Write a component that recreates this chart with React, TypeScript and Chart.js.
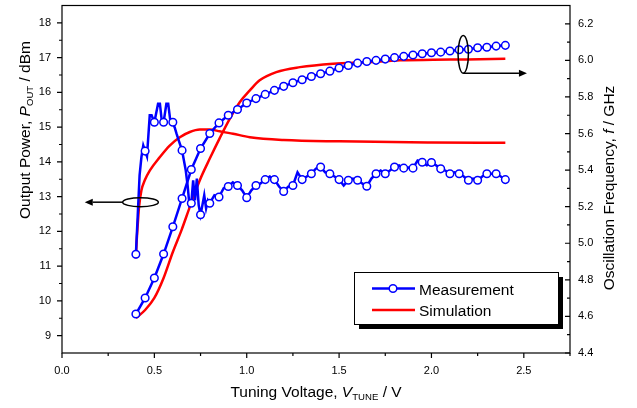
import React, { useEffect, useRef } from "react";
import { Chart, registerables } from "chart.js";

Chart.register(...registerables);

// ---------- tick labels ----------
const xTicks = [0, 0.5, 1.0, 1.5, 2.0, 2.5];
const powerTicks = [9, 10, 11, 12, 13, 14, 15, 16, 17, 18];
const freqTicks = [4.4, 4.6, 4.8, 5.0, 5.2, 5.4, 5.6, 5.8, 6.0, 6.2];

// ---------- measured output power (dBm) ----------
const measVoltsP = [
  0.4, 0.41, 0.42, 0.43, 0.44, 0.45, 0.46, 0.475, 0.485, 0.5, 0.52, 0.53, 0.54, 0.55,
  0.565, 0.575, 0.585, 0.6, 0.61, 0.62, 0.635, 0.65, 0.66, 0.67, 0.68, 0.69, 0.7, 0.71,
  0.72, 0.73, 0.74, 0.75, 0.76, 0.77, 0.78, 0.79, 0.8, 0.825, 0.85, 0.875, 0.9, 0.925,
  0.95, 0.975, 1.0, 1.025, 1.05, 1.075, 1.1, 1.125, 1.15, 1.175, 1.2, 1.225, 1.25, 1.275,
  1.3, 1.325, 1.35, 1.375, 1.4, 1.425, 1.45, 1.475, 1.5, 1.525, 1.55, 1.575, 1.6, 1.625,
  1.65, 1.675, 1.7, 1.725, 1.75, 1.775, 1.8, 1.825, 1.85, 1.875, 1.9, 1.925, 1.95, 1.975,
  2.0, 2.025, 2.05, 2.075, 2.1, 2.125, 2.15, 2.175, 2.2, 2.225, 2.25, 2.275, 2.3, 2.325,
  2.35, 2.375, 2.4,
];
const measPower = [
  11.34, 12.46, 13.61, 14.14, 14.47, 14.31, 14.16, 15.34, 15.34, 15.14, 15.67, 15.67, 15.19, 15.14,
  15.67, 15.67, 15.24, 15.14, 14.99, 14.81, 14.57, 14.33, 14.04, 13.75, 13.32, 12.75, 12.81, 13.47,
  12.89, 13.52, 12.75, 12.48, 12.75, 13.04, 12.66, 12.89, 12.81, 13.04, 12.99, 13.24, 13.29, 13.41,
  13.32, 13.18, 12.97, 13.18, 13.32, 13.38, 13.49, 13.58, 13.49, 13.29, 13.15, 13.29, 13.32, 13.7,
  13.49, 13.58, 13.66, 13.81, 13.85, 13.7, 13.66, 13.58, 13.49, 13.32, 13.47, 13.52, 13.47, 13.38,
  13.3, 13.52, 13.66, 13.75, 13.66, 13.75, 13.85, 13.9, 13.82, 13.84, 13.82, 14.04, 13.99, 13.9,
  13.98, 13.9, 13.8, 13.75, 13.66, 13.7, 13.66, 13.58, 13.47, 13.52, 13.47, 13.58, 13.66, 13.66,
  13.66, 13.58, 13.49,
];

// ---------- measured oscillation frequency (GHz) ----------
const measVoltsF = [
  0.4, 0.45, 0.5, 0.55, 0.6, 0.65, 0.7, 0.75, 0.8, 0.85, 0.9, 0.95, 1.0, 1.05, 1.1, 1.15,
  1.2, 1.25, 1.3, 1.35, 1.4, 1.45, 1.5, 1.55, 1.6, 1.65, 1.7, 1.75, 1.8, 1.85, 1.9, 1.95,
  2.0, 2.05, 2.1, 2.15, 2.2, 2.25, 2.3, 2.35, 2.4,
];
const measFreq = [
  4.613, 4.701, 4.81, 4.941, 5.09, 5.245, 5.403, 5.518, 5.6, 5.658, 5.7, 5.731, 5.767, 5.791,
  5.814, 5.836, 5.858, 5.878, 5.894, 5.912, 5.927, 5.941, 5.958, 5.972, 5.985, 5.994, 6.0,
  6.007, 6.015, 6.022, 6.029, 6.036, 6.042, 6.045, 6.051, 6.058, 6.061, 6.069, 6.072, 6.078, 6.082,
];

// ---------- simulated output power (dBm) ----------
const simVoltsP = [
  0.4, 0.404, 0.408, 0.417, 0.43, 0.448, 0.475, 0.53, 0.583, 0.638, 0.692, 0.746, 0.8,
  0.854, 0.926, 1.017, 1.2, 1.5, 2.0, 2.4,
];
const simPower = [
  11.22, 11.7, 12.03, 12.7, 13.18, 13.47, 13.75, 14.14, 14.47, 14.71, 14.86, 14.93, 14.93,
  14.88, 14.81, 14.71, 14.63, 14.59, 14.56, 14.55,
];

// ---------- simulated oscillation frequency (GHz) ----------
const simVoltsF = [
  0.4, 0.45, 0.5, 0.55, 0.6, 0.647, 0.692, 0.746, 0.8, 0.854, 0.908, 0.963, 1.017, 1.07,
  1.16, 1.288, 1.468, 1.649, 1.83, 2.01, 2.19, 2.4,
];
const simFreq = [
  4.591, 4.635, 4.701, 4.81, 4.952, 5.072, 5.199, 5.345, 5.463, 5.575, 5.68, 5.772, 5.836,
  5.891, 5.936, 5.963, 5.982, 5.99, 6.0, 6.004, 6.005, 6.009,
];

const BLUE = "#0000ff";
const RED = "#ff0000";
const FONT = "'Liberation Sans', Arial, Helvetica, sans-serif";

const isMarker = (v: number) => Math.abs(v * 20 - Math.round(v * 20)) < 1e-6;

type Part = { t: string; it?: boolean; sub?: boolean };

function drawRich(ctx: CanvasRenderingContext2D, parts: Part[], size: number) {
  const subSize = size * 0.62;
  const fontOf = (p: Part) =>
    `${p.it ? "italic " : ""}${p.sub ? subSize : size}px ${FONT}`;
  let total = 0;
  const widths = parts.map((p) => {
    ctx.font = fontOf(p);
    const w = ctx.measureText(p.t).width;
    total += w;
    return w;
  });
  let x = -total / 2;
  parts.forEach((p, i) => {
    ctx.font = fontOf(p);
    ctx.fillText(p.t, x, p.sub ? size * 0.22 : 0);
    x += widths[i];
  });
}

function arrow(ctx: CanvasRenderingContext2D, x0: number, y0: number, x1: number, y1: number) {
  const ang = Math.atan2(y1 - y0, x1 - x0);
  const L = 8;
  const W = 3.5;
  ctx.beginPath();
  ctx.moveTo(x0, y0);
  ctx.lineTo(x1 - L * Math.cos(ang), y1 - L * Math.sin(ang));
  ctx.stroke();
  ctx.beginPath();
  ctx.moveTo(x1, y1);
  ctx.lineTo(x1 - L * Math.cos(ang) + W * Math.sin(ang), y1 - L * Math.sin(ang) - W * Math.cos(ang));
  ctx.lineTo(x1 - L * Math.cos(ang) - W * Math.sin(ang), y1 - L * Math.sin(ang) + W * Math.cos(ang));
  ctx.closePath();
  ctx.fill();
}

const decorPlugin = {
  id: "decor",
  afterDraw(chart: any) {
    const { ctx, chartArea: a, scales } = chart;
    const sx = scales.x;
    const sy = scales.y;
    const sf = scales.y1;
    ctx.save();
    ctx.strokeStyle = "#000";
    ctx.fillStyle = "#000";
    ctx.lineWidth = 1.2;
    // frame
    ctx.strokeRect(a.left, a.top, a.right - a.left, a.bottom - a.top);

    // ticks
    ctx.beginPath();
    xTicks.forEach((v) => {
      const p = sx.getPixelForValue(v);
      ctx.moveTo(p, a.bottom);
      ctx.lineTo(p, a.bottom + 5);
      const m = sx.getPixelForValue(v + 0.25);
      ctx.moveTo(m, a.bottom);
      ctx.lineTo(m, a.bottom + 3);
    });
    powerTicks.forEach((v) => {
      const p = sy.getPixelForValue(v);
      ctx.moveTo(a.left - 5, p);
      ctx.lineTo(a.left, p);
      if (v < 18) {
        const m = sy.getPixelForValue(v + 0.5);
        ctx.moveTo(a.left - 3, m);
        ctx.lineTo(a.left, m);
      }
    });
    freqTicks.forEach((v) => {
      const p = sf.getPixelForValue(v);
      ctx.moveTo(a.right - 5, p);
      ctx.lineTo(a.right, p);
      const m = sf.getPixelForValue(v + 0.1);
      ctx.moveTo(a.right - 3, m);
      ctx.lineTo(a.right, m);
    });
    ctx.stroke();

    // axis titles
    ctx.textAlign = "left";
    ctx.textBaseline = "alphabetic";
    ctx.save();
    ctx.translate((a.left + a.right) / 2, 397);
    drawRich(ctx, [{ t: "Tuning Voltage, " }, { t: "V", it: true }, { t: "TUNE", sub: true }, { t: " / V" }], 15.5);
    ctx.restore();

    ctx.save();
    ctx.translate(30, 130);
    ctx.rotate(-Math.PI / 2);
    drawRich(ctx, [{ t: "Output Power, " }, { t: "P", it: true }, { t: "OUT", sub: true }, { t: " / dBm" }], 15.5);
    ctx.restore();

    ctx.save();
    ctx.translate(614, 188);
    ctx.rotate(-Math.PI / 2);
    drawRich(ctx, [{ t: "Oscillation Frequency, " }, { t: "f", it: true }, { t: " / GHz" }], 15.5);
    ctx.restore();

    // annotation: power side ellipse + arrow to the left
    ctx.lineWidth = 1.5;
    const ecx = sx.getPixelForValue(0.425);
    const ecy = sy.getPixelForValue(12.84);
    const erx = sx.getPixelForValue(0.425 + 0.0964) - ecx;
    const ery = ecy - sy.getPixelForValue(12.84 + 0.129);
    ctx.beginPath();
    ctx.ellipse(ecx, ecy, erx, ery, 0, 0, Math.PI * 2);
    ctx.stroke();
    arrow(ctx, ecx - erx, ecy, sx.getPixelForValue(0.123), ecy);

    // annotation: frequency side ellipse + arrow to the right
    const fcx = sx.getPixelForValue(2.172);
    const fcy = sf.getPixelForValue(6.033);
    const frx = sx.getPixelForValue(2.172 + 0.028) - fcx;
    const fry = fcy - sf.getPixelForValue(6.033 + 0.103);
    ctx.beginPath();
    ctx.ellipse(fcx, fcy, frx, fry, 0, 0, Math.PI * 2);
    ctx.stroke();
    arrow(ctx, fcx, fcy + fry, sx.getPixelForValue(2.517), fcy + fry);

    // legend
    const lx = 354, ly = 272, lw = 204, lh = 52;
    ctx.fillStyle = "#000";
    ctx.fillRect(lx + 5, ly + 5, lw, lh);
    ctx.fillStyle = "#fff";
    ctx.fillRect(lx, ly, lw, lh);
    ctx.lineWidth = 1;
    ctx.strokeStyle = "#000";
    ctx.strokeRect(lx + 0.5, ly + 0.5, lw, lh);

    ctx.lineWidth = 2.5;
    ctx.strokeStyle = BLUE;
    ctx.beginPath();
    ctx.moveTo(372, 288.5);
    ctx.lineTo(415, 288.5);
    ctx.stroke();
    ctx.lineWidth = 1.5;
    ctx.fillStyle = "#fff";
    ctx.beginPath();
    ctx.arc(393, 288.5, 3.8, 0, Math.PI * 2);
    ctx.fill();
    ctx.stroke();

    ctx.lineWidth = 2.5;
    ctx.strokeStyle = RED;
    ctx.beginPath();
    ctx.moveTo(372, 310);
    ctx.lineTo(415, 310);
    ctx.stroke();

    ctx.fillStyle = "#000";
    ctx.font = `15.5px ${FONT}`;
    ctx.textAlign = "left";
    ctx.textBaseline = "alphabetic";
    ctx.fillText("Measurement", 419, 294.5);
    ctx.fillText("Simulation", 419, 315.5);

    ctx.restore();
  },
};

const noPad = (s: any) => {
  s.paddingTop = 0;
  s.paddingBottom = 0;
  s.paddingLeft = 0;
  s.paddingRight = 0;
};

export default function App() {
  const ref = useRef<HTMLCanvasElement | null>(null);

  useEffect(() => {
    if (!ref.current) return;
    Chart.defaults.font.family = FONT;
    const tickFont = { size: 11, family: FONT };
    const chart = new Chart(ref.current, {
      type: "line",
      data: {
        datasets: [
          {
            label: "Measurement",
            data: measVoltsP.map((v, i) => ({ x: v, y: measPower[i] })),
            yAxisID: "y",
            borderColor: BLUE,
            borderWidth: 2.5,
            pointStyle: "circle",
            pointRadius: (c: any) => (isMarker(measVoltsP[c.dataIndex]) ? 3.8 : 0),
            pointBackgroundColor: "#fff",
            pointBorderColor: BLUE,
            pointBorderWidth: 1.5,
            tension: 0,
          },
          {
            label: "Measurement f",
            data: measVoltsF.map((v, i) => ({ x: v, y: measFreq[i] })),
            yAxisID: "y1",
            borderColor: BLUE,
            borderWidth: 2.5,
            pointStyle: "circle",
            pointRadius: 3.8,
            pointBackgroundColor: "#fff",
            pointBorderColor: BLUE,
            pointBorderWidth: 1.5,
            tension: 0,
          },
          {
            label: "Simulation",
            data: simVoltsP.map((v, i) => ({ x: v, y: simPower[i] })),
            yAxisID: "y",
            borderColor: RED,
            borderWidth: 2.5,
            pointRadius: 0,
            cubicInterpolationMode: "monotone",
          },
          {
            label: "Simulation f",
            data: simVoltsF.map((v, i) => ({ x: v, y: simFreq[i] })),
            yAxisID: "y1",
            borderColor: RED,
            borderWidth: 2.5,
            pointRadius: 0,
            cubicInterpolationMode: "monotone",
          },
        ],
      },
      options: {
        responsive: false,
        animation: false,
        devicePixelRatio: 1,
        layout: { padding: { top: 5, left: 0, right: 0, bottom: 0 } },
        plugins: { legend: { display: false }, tooltip: { enabled: false } },
        scales: {
          x: {
            type: "linear",
            min: 0,
            max: 2.75,
            grid: { display: false, drawTicks: false },
            border: { display: false },
            ticks: { font: tickFont, color: "#000", padding: 11, maxRotation: 0, callback: (v: any) => Number(v).toFixed(1) },
            afterBuildTicks: (s: any) => { s.ticks = xTicks.map((v) => ({ value: v })); },
            afterFit: (s: any) => { s.height = 55; noPad(s); },
          },
          y: {
            type: "linear",
            position: "left",
            min: 8.5,
            max: 18.5,
            grid: { display: false, drawTicks: false },
            border: { display: false },
            ticks: { font: tickFont, color: "#000", padding: 11, callback: (v: any) => String(v) },
            afterBuildTicks: (s: any) => { s.ticks = powerTicks.map((v) => ({ value: v })); },
            afterFit: (s: any) => { s.width = 62; noPad(s); },
          },
          y1: {
            type: "linear",
            position: "right",
            min: 4.4,
            max: 6.3,
            grid: { display: false, drawTicks: false },
            border: { display: false },
            ticks: { font: tickFont, color: "#000", padding: 8, callback: (v: any) => Number(v).toFixed(1) },
            afterBuildTicks: (s: any) => { s.ticks = freqTicks.map((v) => ({ value: v })); },
            afterFit: (s: any) => { s.width = 67; noPad(s); },
          },
        },
      } as any,
      plugins: [decorPlugin],
    });
    return () => chart.destroy();
  }, []);

  return (
    <div style={{ position: "fixed", left: 0, top: 0, width: 637, height: 408, background: "#fff" }}>
      <canvas ref={ref} width={637} height={408} style={{ display: "block" }} />
    </div>
  );
}
